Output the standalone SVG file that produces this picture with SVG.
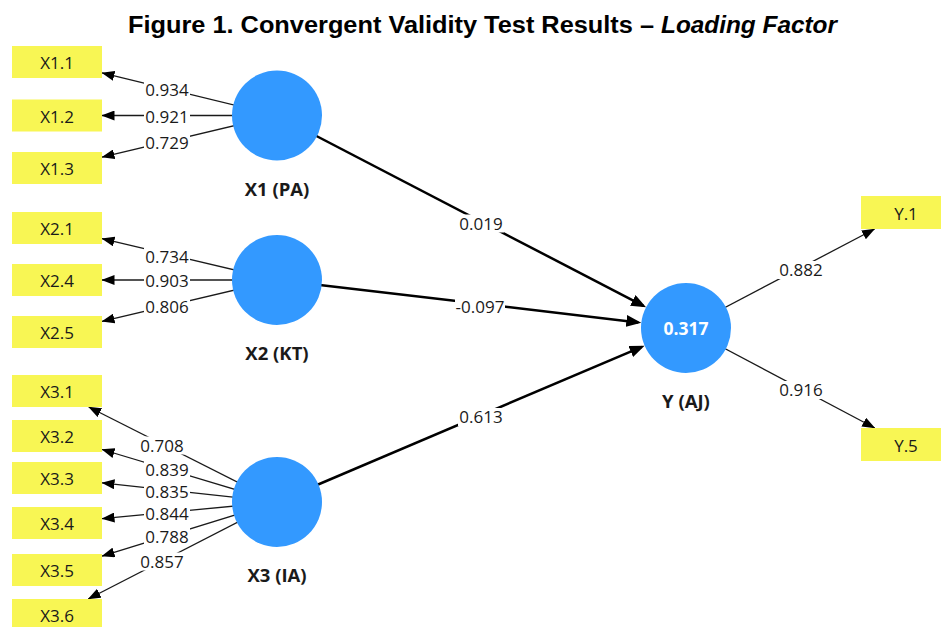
<svg xmlns="http://www.w3.org/2000/svg" width="941" height="627" viewBox="0 0 941 627">
<defs>
<style>
.title{font-family:"Liberation Sans",Arial,sans-serif;font-weight:bold;font-size:23px;fill:#000}
.box{fill:#f8f654}
.boxt{font-family:"Open Sans","Noto Sans",sans-serif;font-size:17px;fill:#1a1a1a;text-anchor:middle}
.lv{fill:#3399ff}
.lvname{font-family:"Open Sans","Noto Sans",sans-serif;font-size:18.5px;font-weight:bold;fill:#1a1a1a;text-anchor:middle}
.r2{font-family:"Open Sans","Noto Sans",sans-serif;font-size:17.5px;font-weight:bold;fill:#fff;text-anchor:middle}
.outer{stroke:#1a1a1a;stroke-width:1.3;fill:none;marker-end:url(#ah)}
.inner{stroke:#000;stroke-width:2.5;fill:none;marker-end:url(#ahb)}
.lbg{fill:#fff}
.lbl{font-family:"Open Sans","Noto Sans",sans-serif;font-size:17px;fill:#1a1a1a;text-anchor:middle}
</style>
<marker id="ah" markerUnits="userSpaceOnUse" markerWidth="13" markerHeight="10" viewBox="0 0 13 10" refX="12.5" refY="5" orient="auto">
<path d="M0,0 L13,5 L0,10 z" fill="#000"/>
</marker>
<marker id="ahb" markerUnits="userSpaceOnUse" markerWidth="15" markerHeight="12" viewBox="0 0 15 12" refX="12" refY="6" orient="auto">
<path d="M0,0 L15,6 L0,12 z" fill="#000"/>
</marker>
</defs>
<rect width="941" height="627" fill="#fff"/>
<g id="title">
<text class="title" x="128" y="33" textLength="526" lengthAdjust="spacingAndGlyphs">Figure 1. Convergent Validity Test Results –</text>
<text class="title" x="661" y="33" font-style="italic" textLength="176" lengthAdjust="spacingAndGlyphs">Loading Factor</text>
</g>
<g id="connectors">
<g id="lines">
<line class="outer" x1="277" y1="115.5" x2="102" y2="72.9"/>
<line class="outer" x1="277" y1="115.5" x2="102" y2="115.5"/>
<line class="outer" x1="277" y1="115.5" x2="102" y2="157.2"/>
<line class="outer" x1="277" y1="280" x2="102" y2="238.6"/>
<line class="outer" x1="277" y1="280" x2="102" y2="280"/>
<line class="outer" x1="277" y1="280" x2="102" y2="321.4"/>
<line class="outer" x1="277" y1="502" x2="88.7" y2="407"/>
<line class="outer" x1="277" y1="502" x2="102" y2="449.5"/>
<line class="outer" x1="277" y1="502" x2="102" y2="482.9"/>
<line class="outer" x1="277" y1="502" x2="102" y2="518.7"/>
<line class="outer" x1="277" y1="502" x2="102" y2="556.1"/>
<line class="outer" x1="277" y1="502" x2="88.2" y2="599"/>
<line class="outer" x1="686" y1="328" x2="874.6" y2="229"/>
<line class="outer" x1="686" y1="328" x2="874.8" y2="428"/>
<line class="inner" x1="277" y1="115.5" x2="643.4" y2="305.9"/>
<line class="inner" x1="277" y1="280" x2="638.3" y2="322.4"/>
<line class="inner" x1="277" y1="502" x2="641.8" y2="346.8"/>
</g>
<g id="labels">
<rect class="lbg" x="144" y="81" width="46" height="18"/><text class="lbl" x="167" y="96">0.934</text>
<rect class="lbg" x="144" y="107.5" width="46" height="18"/><text class="lbl" x="167" y="122.5">0.921</text>
<rect class="lbg" x="144" y="133.5" width="46" height="18"/><text class="lbl" x="167" y="148.5">0.729</text>
<rect class="lbg" x="144" y="247.5" width="46" height="18"/><text class="lbl" x="167" y="262.5">0.734</text>
<rect class="lbg" x="144" y="271.5" width="46" height="18"/><text class="lbl" x="167" y="286.5">0.903</text>
<rect class="lbg" x="144" y="297.5" width="46" height="18"/><text class="lbl" x="167" y="312.5">0.806</text>
<rect class="lbg" x="139" y="436.5" width="46" height="18"/><text class="lbl" x="162" y="451.5">0.708</text>
<rect class="lbg" x="144" y="460.5" width="46" height="18"/><text class="lbl" x="167" y="475.5">0.839</text>
<rect class="lbg" x="144" y="482.5" width="46" height="18"/><text class="lbl" x="167" y="497.5">0.835</text>
<rect class="lbg" x="144" y="505" width="46" height="18"/><text class="lbl" x="167" y="520">0.844</text>
<rect class="lbg" x="144" y="528" width="46" height="18"/><text class="lbl" x="167" y="543">0.788</text>
<rect class="lbg" x="139" y="552.5" width="46" height="18"/><text class="lbl" x="162" y="567.5">0.857</text>
<rect class="lbg" x="778" y="261" width="46" height="18"/><text class="lbl" x="801" y="276">0.882</text>
<rect class="lbg" x="778" y="381" width="46" height="18"/><text class="lbl" x="801" y="396">0.916</text>
<rect class="lbg" x="458" y="214.5" width="46" height="18"/><text class="lbl" x="481" y="229.5">0.019</text>
<rect class="lbg" x="455" y="297.5" width="50" height="18"/><text class="lbl" x="480" y="312.5">-0.097</text>
<rect class="lbg" x="458" y="408" width="46" height="18"/><text class="lbl" x="481" y="423">0.613</text>
</g>
</g>
<g id="X1.1"><rect class="box" x="12" y="46" width="90" height="32"/><text class="boxt" x="57" y="69">X1.1</text></g>
<g id="X1.2"><rect class="box" x="12" y="99.5" width="90" height="32"/><text class="boxt" x="57" y="122.5">X1.2</text></g>
<g id="X1.3"><rect class="box" x="12" y="152" width="90" height="32"/><text class="boxt" x="57" y="175">X1.3</text></g>
<g id="X2.1"><rect class="box" x="12" y="212" width="90" height="32"/><text class="boxt" x="57" y="235">X2.1</text></g>
<g id="X2.4"><rect class="box" x="12" y="264" width="90" height="32"/><text class="boxt" x="57" y="287">X2.4</text></g>
<g id="X2.5"><rect class="box" x="12" y="316" width="90" height="32"/><text class="boxt" x="57" y="339">X2.5</text></g>
<g id="X3.1"><rect class="box" x="12" y="375" width="90" height="32"/><text class="boxt" x="57" y="398">X3.1</text></g>
<g id="X3.2"><rect class="box" x="12" y="420" width="90" height="32"/><text class="boxt" x="57" y="443">X3.2</text></g>
<g id="X3.3"><rect class="box" x="12" y="462" width="90" height="32"/><text class="boxt" x="57" y="485">X3.3</text></g>
<g id="X3.4"><rect class="box" x="12" y="507" width="90" height="32"/><text class="boxt" x="57" y="530">X3.4</text></g>
<g id="X3.5"><rect class="box" x="12" y="554" width="90" height="32"/><text class="boxt" x="57" y="577">X3.5</text></g>
<g id="X3.6"><rect class="box" x="12" y="599" width="90" height="32"/><text class="boxt" x="57" y="622">X3.6</text></g>
<g id="Y.1"><rect class="box" x="861" y="196" width="90" height="33"/><text class="boxt" x="906" y="219.5">Y.1</text></g>
<g id="Y.5"><rect class="box" x="861" y="428" width="90" height="33"/><text class="boxt" x="906" y="451.5">Y.5</text></g>
<g id="X1"><circle class="lv" cx="277" cy="115.5" r="45"/><text class="lvname" x="277" y="195.5">X1 (PA)</text></g>
<g id="X2"><circle class="lv" cx="277" cy="280" r="45"/><text class="lvname" x="277" y="360">X2 (KT)</text></g>
<g id="X3"><circle class="lv" cx="277" cy="502" r="45"/><text class="lvname" x="277" y="582">X3 (IA)</text></g>
<g id="Y"><circle class="lv" cx="686" cy="328" r="45"/><text class="r2" x="686" y="335">0.317</text><text class="lvname" x="686" y="408">Y (AJ)</text></g>
</svg>
